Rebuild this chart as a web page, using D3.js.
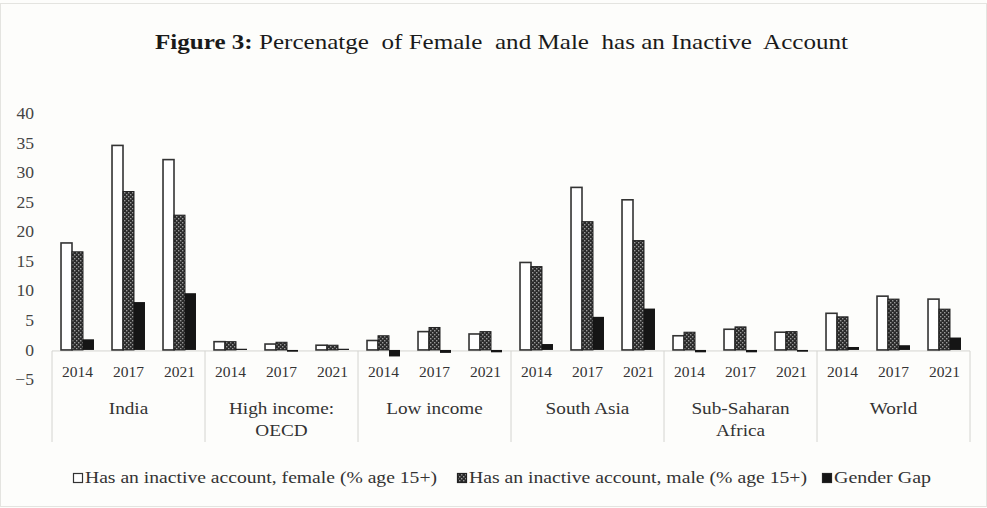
<!DOCTYPE html>
<html>
<head>
<meta charset="utf-8">
<script src="https://cdn.jsdelivr.net/npm/d3@7"></script>
<style>
  html, body { margin: 0; padding: 0; background: #fdfdfb; }
  svg { display: block; }
</style>
</head>
<body>
<svg id="chart" width="987" height="508"></svg>
<script>
const groups = ["India", "High income: OECD", "Low income", "South Asia", "Sub-Saharan Africa", "World"];
const groupLines = [["India"], ["High income:", "OECD"], ["Low income"], ["South Asia"], ["Sub-Saharan", "Africa"], ["World"]];
const years = ["2014", "2017", "2021"];
const seriesNames = ["Has an inactive account, female (% age 15+)", "Has an inactive account, male (% age 15+)", "Gender Gap"];
const female = [18.1, 34.6, 32.2, 1.4, 1.0, 0.8, 1.6, 3.1, 2.7, 14.8, 27.5, 25.4, 2.4, 3.5, 3.0, 6.2, 9.1, 8.6];
const male   = [16.6, 26.8, 22.8, 1.4, 1.3, 0.8, 2.4, 3.8, 3.1, 14.1, 21.7, 18.5, 3.0, 3.9, 3.1, 5.6, 8.6, 6.9];
const gap    = [1.8, 8.1, 9.6, 0.2, -0.3, 0.2, -1.1, -0.5, -0.4, 1.0, 5.6, 7.0, -0.4, -0.4, -0.3, 0.5, 0.8, 2.1];
const yTicks = [-5, 0, 5, 10, 15, 20, 25, 30, 35, 40];
const titleBold = "Figure 3:";
const titleRest = " Percenatge  of Female  and Male  has an Inactive  Account";

const svg = d3.select("#chart");
const W = 987, H = 508;
const font = "'Liberation Serif', 'Times New Roman', serif";

// stretch helper: widen text horizontally like the (stretched) reference image
function stretch(sel, factor) {
  sel.each(function () {
    const w = this.getComputedTextLength();
    d3.select(this).attr("textLength", w * factor).attr("lengthAdjust", "spacingAndGlyphs");
  });
}

// frame
svg.append("rect").attr("x", 0.5).attr("y", 3.5).attr("width", W - 1).attr("height", H - 5)
  .attr("fill", "#fdfdfb").attr("stroke", "#e4e4e0");

// pattern for male series
const defs = svg.append("defs");
const pat = defs.append("pattern").attr("id", "checker").attr("patternUnits", "userSpaceOnUse")
  .attr("width", 4).attr("height", 4);
pat.append("rect").attr("width", 4).attr("height", 4).attr("fill", "#2a2a2a");
pat.append("rect").attr("x", 0).attr("y", 0).attr("width", 1.4).attr("height", 1.4).attr("fill", "#9a9a9a");
pat.append("rect").attr("x", 2).attr("y", 2).attr("width", 1.4).attr("height", 1.4).attr("fill", "#9a9a9a");

const x0 = d3.scaleBand().domain(groups).range([52, 970]).padding(0);
const x1 = d3.scaleBand().domain(years).range([0, x0.bandwidth()]).padding(0);
const x2 = d3.scaleBand().domain(seriesNames).range([0, x1.bandwidth()]).paddingInner(0).paddingOuter(0.82);
const y = d3.scaleLinear().domain([-5, 40]).range([379.5, 113.5]);

// title
const t = svg.append("text").attr("x", 155).attr("y", 49)
  .attr("font-family", font).attr("font-size", 22).attr("fill", "#1a1a1a")
  .attr("textLength", 693).attr("lengthAdjust", "spacingAndGlyphs")
  .style("white-space", "pre");
t.append("tspan").attr("font-weight", "bold").text(titleBold);
t.append("tspan").text(titleRest);

// y axis labels
const yAxis = d3.axisLeft(y).tickValues(yTicks).tickSize(0).tickPadding(0);
const gy = svg.append("g").attr("transform", "translate(34,0)").call(yAxis);
gy.select(".domain").remove();
gy.selectAll("text").attr("font-family", font).attr("font-size", 16).attr("fill", "#444");
stretch(gy.selectAll("text"), 1.1);

// category axis box
const axisY = y(0);
const boxBottom = 442;
svg.append("line").attr("x1", 52).attr("x2", 970).attr("y1", axisY + 1).attr("y2", axisY + 1)
  .attr("stroke", "#d4d4d0").attr("stroke-width", 1);
const seps = groups.map(g => x0(g)).concat([x0.range()[1]]);
svg.selectAll("line.sep").data(seps).join("line").attr("class", "sep")
  .attr("x1", d => d).attr("x2", d => d).attr("y1", axisY + 1).attr("y2", boxBottom)
  .attr("stroke", "#d4d4d0").attr("stroke-width", 1);

// data rows
const rows = [];
groups.forEach((g, gi) => years.forEach((yr, yi) => {
  const i = gi * 3 + yi;
  rows.push({ g, yr, s: seriesNames[0], v: female[i] });
  rows.push({ g, yr, s: seriesNames[1], v: male[i] });
  rows.push({ g, yr, s: seriesNames[2], v: gap[i] });
}));

const fillFor = s => s === seriesNames[0] ? "#ffffff" : (s === seriesNames[1] ? "url(#checker)" : "#151515");

svg.append("g").selectAll("rect").data(rows).join("rect")
  .attr("x", d => x0(d.g) + x1(d.yr) + x2(d.s))
  .attr("width", x2.bandwidth())
  .attr("y", d => Math.min(y(d.v), y(0)))
  .attr("height", d => Math.abs(y(d.v) - y(0)))
  .attr("fill", d => fillFor(d.s))
  .attr("stroke", d => d.s === seriesNames[0] ? "#333" : (d.s === seriesNames[1] ? "#222" : "none"))
  .attr("stroke-width", d => d.s === seriesNames[0] ? 1.6 : 1);

// year labels
groups.forEach(g => {
  const yl = svg.append("g").selectAll("text").data(years).join("text")
    .attr("x", d => x0(g) + x1(d) + x1.bandwidth() / 2)
    .attr("y", 377)
    .attr("text-anchor", "middle")
    .attr("font-family", font).attr("font-size", 15.5).attr("fill", "#333")
    .text(d => d);
});

// group labels
groups.forEach((g, gi) => {
  const cx = x0(g) + x0.bandwidth() / 2;
  groupLines[gi].forEach((ln, li) => {
    const tx = svg.append("text").attr("x", cx).attr("y", 414 + li * 22)
      .attr("text-anchor", "middle").attr("font-family", font).attr("font-size", 16).attr("fill", "#333")
      .text(ln);
    stretch(tx, 1.2);
  });
});

// legend
const legendX = [73, 457, 822];
const legendW = [352, 338, 97];
seriesNames.forEach((s, i) => {
  const gx = svg.append("g").attr("transform", `translate(${legendX[i]},478)`);
  gx.append("rect").attr("x", 0.5).attr("y", -4.5).attr("width", 9).attr("height", 9)
    .attr("fill", fillFor(s)).attr("stroke", i === 0 ? "#333" : "#222").attr("stroke-width", 1.2);
  gx.append("text").attr("x", 12).attr("y", 5).attr("font-family", font).attr("font-size", 16)
    .attr("fill", "#333").attr("textLength", legendW[i]).attr("lengthAdjust", "spacingAndGlyphs").text(s);
});
</script>
</body>
</html>
